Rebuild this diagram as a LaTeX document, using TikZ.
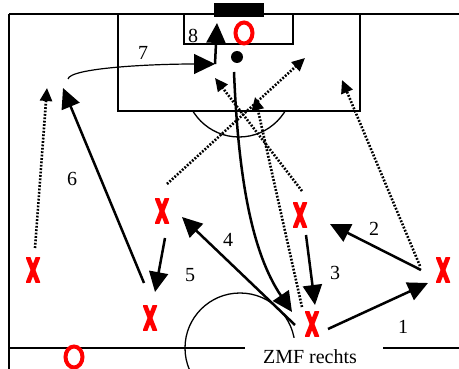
\documentclass[tikz,border=0pt]{standalone}
\usepackage{fontspec}
\setmainfont{Liberation Serif}
\usetikzlibrary{arrows.meta,shapes.geometric}
\begin{document}
\begin{tikzpicture}[x=1pt,y=-1pt,
  field/.style={line width=1.3pt},
  player/.style={minimum width=14pt,minimum height=25pt,inner sep=0pt,
    path picture={\draw[red,line width=4.6pt]
      ([xshift=-5.5pt,yshift=-14pt]path picture bounding box.center) -- ([xshift=5.5pt,yshift=14pt]path picture bounding box.center)
      ([xshift=5.5pt,yshift=-14pt]path picture bounding box.center) -- ([xshift=-5.5pt,yshift=14pt]path picture bounding box.center);}},
  opp/.style={ellipse,draw=red,line width=4pt,fill=white,minimum width=17pt,minimum height=21pt,inner sep=0pt},
  run/.style={line width=2.5pt,-{Triangle[length=20pt,width=19pt]}},
  thinrun/.style={line width=1.2pt,-{Triangle[length=21pt,width=20pt]}},
  pass/.style={line width=2.6pt,dash pattern=on 1.8pt off 1.6pt,-{Triangle[length=13pt,width=12pt]}},
  num/.style={font=\fontsize{20pt}{24pt}\selectfont,inner sep=0pt},
]
\useasboundingbox (0,0) rectangle (459,369);
\clip (0,0) rectangle (459,369);
% field
\draw[field] (9,369) -- (9,14);
\draw[line width=1.8pt] (9,14) -- (459,14);
\draw[field] (118,14) -- (118,111) -- (360,111) -- (360,14);
\draw[field] (184,14) -- (184,44) -- (293,44) -- (293,14);
\node[fill,minimum width=50pt,minimum height=14pt,inner sep=0pt] (goal) at (239,10) {};
\begin{scope}
  \clip (100,111) rectangle (380,200);
  \draw[field] (239,83) circle[radius=54pt];
\end{scope}
\draw[field] (9,348) -- (459,348);
\draw[field] (240,348) circle[radius=55pt];
\fill[white] (245,338) rectangle (383,369);
\node[num] (zmf) at (310,357) {ZMF rechts};
% opponents and spot
\node[opp] (o1) at (244,33) {};
\node[opp] (o2) at (74,357) {};
\node[circle,fill,minimum size=12pt,inner sep=0pt] (spot) at (237,57) {};
% players
\node[player] (pA) at (33,270) {};
\node[player] (pB) at (150,318) {};
\node[player] (pC) at (162,211) {};
\node[player] (pD) at (300,215) {};
\node[player] (pE) at (312,324) {};
\node[player] (pF) at (443,270) {};
% coordinates
\coordinate (a1s) at (328,329); \coordinate (a1e) at (428,283);
\coordinate (a2s) at (421,270); \coordinate (a2e) at (330,224);
\coordinate (a3s) at (306,235); \coordinate (a3e) at (315,305);
\coordinate (a4s) at (295,325); \coordinate (a4e) at (182,217);
\coordinate (a5s) at (165,238); \coordinate (a5e) at (155,292);
\coordinate (a6s) at (144,283); \coordinate (a6e) at (63,88);
\coordinate (a7s) at (68,79);   \coordinate (a7e) at (215,64);
\coordinate (a8e) at (217,23);
\coordinate (cs) at (234,72);   \coordinate (ce) at (292,312);
\coordinate (d1s) at (35,248);  \coordinate (d1e) at (47,88);
\coordinate (d2s) at (167,184); \coordinate (d2e) at (305,58);
\coordinate (d3s) at (302,191); \coordinate (d3e) at (215,78);
\coordinate (d4s) at (302,307); \coordinate (d4e) at (255,97);
\coordinate (d5s) at (420,266); \coordinate (d5e) at (342,80);
% solid runs
\draw[run] (a1s) -- (a1e);
\draw[run] (a2s) -- (a2e);
\draw[run] (a3s) -- (a3e);
\draw[run] (a4s) -- (a4e);
\draw[run] (a5s) -- (a5e);
\draw[run] (a6s) -- (a6e);
\draw[thinrun] (a7s) .. controls (70,68) and (150,64) .. (a7e);
\draw[run] (a7e) -- (a8e);
\draw[run] (cs) .. controls (238,170) and (250,250) .. (ce);
% dotted passes
\draw[pass] (d1s) -- (d1e);
\draw[pass] (d2s) -- (d2e);
\draw[pass] (d3s) -- (d3e);
\draw[pass] (d4s) -- (d4e);
\draw[pass] (d5s) -- (d5e);
% numbers
\node[num] (n1) at (403,327) {1};
\node[num] (n2) at (374,229) {2};
\node[num] (n3) at (335,273) {3};
\node[num] (n4) at (228,240) {4};
\node[num] (n5) at (190,275) {5};
\node[num] (n6) at (72,179) {6};
\node[num] (n7) at (143,53) {7};
\node[num] (n8) at (193,36) {8};
\end{tikzpicture}
\end{document}
